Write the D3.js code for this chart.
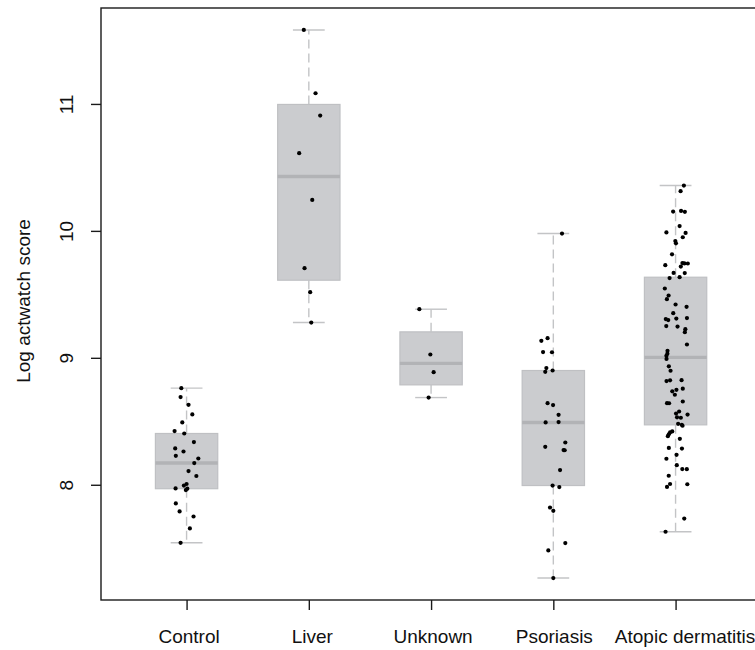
<!DOCTYPE html>
<html>
<head>
<meta charset="utf-8">
<script src="https://cdn.jsdelivr.net/npm/d3@7"></script>
<style>
  html, body { margin: 0; padding: 0; background: #fff; }
  svg { display: block; }
  text { font-family: "Liberation Sans", Arial, Helvetica, sans-serif; }
</style>
</head>
<body>
<svg id="chart" width="755" height="650"></svg>
<script>
// ---------------- data ----------------
const categories = ["Control", "Liver", "Unknown", "Psoriasis", "Atopic dermatitis"];
const yTicks = [8, 9, 10, 11];
const yLabel = "Log actwatch score";

const controlValues = [8.761, 8.691, 8.630, 8.554, 8.491, 8.423, 8.404, 8.336, 8.286, 8.262,
  8.228, 8.207, 8.171, 8.108, 8.069, 8.006, 7.994, 7.969, 7.958, 7.971,
  7.853, 7.790, 7.750, 7.656, 7.543];
const controlJitter = [-0.043, -0.049, 0.016, 0.047, -0.035, -0.098, -0.019, 0.060, -0.093, -0.025,
  -0.088, 0.096, 0.063, 0.016, 0.080, 0.000, -0.022, 0.006, -0.006, -0.090,
  -0.088, -0.057, 0.057, 0.027, -0.049];

const liverValues = [11.583, 11.084, 10.908, 10.612, 10.244, 9.706, 9.517, 9.278];
const liverJitter = [-0.041, 0.055, 0.093, -0.079, 0.028, -0.035, 0.011, 0.020];

const unknownValues = [9.383, 9.026, 8.887, 8.687];
const unknownJitter = [-0.096, -0.006, 0.021, -0.020];

const psoriasisValues = [9.979, 9.155, 9.134, 9.045, 9.044, 8.919, 8.900, 8.890, 8.643, 8.628,
  8.551, 8.494, 8.491, 8.333, 8.299, 8.273, 8.272, 8.116, 7.994, 7.982,
  7.821, 7.795, 7.541, 7.483, 7.265];
const psoriasisJitter = [0.071, -0.047, -0.098, -0.084, -0.011, -0.057, -0.006, -0.066, -0.047, -0.002,
  0.043, 0.043, -0.063, 0.098, -0.066, 0.084, 0.093, 0.055, -0.006, 0.049,
  -0.027, 0.000, 0.098, -0.041, 0.000];

const atopicValues = [10.357, 10.313, 10.152, 10.157, 10.150, 10.038, 9.988, 9.984, 9.950, 9.920,
  9.902, 9.815, 9.730, 9.746, 9.744, 9.743, 9.719, 9.669, 9.668, 9.628,
  9.635, 9.546, 9.491, 9.462, 9.420, 9.402, 9.352, 9.305, 9.297, 9.309,
  9.313, 9.250, 9.246, 9.226, 9.202, 9.105, 9.055, 9.033, 9.016, 8.991,
  8.933, 8.898, 8.817, 8.823, 8.824, 8.736, 8.748, 8.757, 8.709, 8.643,
  8.642, 8.656, 8.577, 8.561, 8.553, 8.531, 8.528, 8.480, 8.472, 8.465,
  8.420, 8.412, 8.398, 8.383, 8.362, 8.290, 8.285, 8.236, 8.205, 8.154,
  8.124, 8.123, 8.071, 8.006, 8.004, 7.983, 7.734, 7.630];
const atopicJitter = [0.068, 0.041, -0.020, 0.045, 0.076, 0.033, -0.075, 0.082, 0.059, -0.002,
  0.003, -0.029, -0.084, 0.056, 0.072, 0.100, 0.043, -0.016, 0.075, -0.049,
  0.033, -0.088, -0.057, -0.071, 0.000, 0.090, -0.019, -0.080, -0.060, 0.006,
  0.093, -0.076, 0.016, 0.080, 0.076, 0.093, -0.066, -0.067, -0.075, -0.074,
  -0.055, -0.041, -0.074, -0.045, 0.049, -0.027, 0.007, 0.059, -0.006, -0.070,
  -0.053, 0.059, 0.029, 0.004, 0.098, 0.012, 0.043, 0.021, 0.051, 0.057,
  -0.027, -0.045, -0.055, -0.063, 0.035, -0.055, 0.052, 0.008, -0.075, 0.010,
  0.055, 0.092, -0.056, -0.045, 0.096, -0.070, 0.071, -0.082];

const groupValues = [controlValues, liverValues, unknownValues, psoriasisValues, atopicValues];
const groupJitter = [controlJitter, liverJitter, unknownJitter, psoriasisJitter, atopicJitter];

// ---------------- helpers ----------------
function fivenum(arr) {
  const x = arr.slice().sort((a, b) => a - b);
  const n = x.length;
  const n4 = Math.floor((n + 3) / 2) / 2;
  const d = [1, n4, (n + 1) / 2, n + 1 - n4, n];
  return d.map(p => 0.5 * (x[Math.floor(p) - 1] + x[Math.ceil(p) - 1]));
}
function boxStats(arr) {
  const f = fivenum(arr);
  const iqr = f[3] - f[1];
  const lo = f[1] - 1.5 * iqr, hi = f[3] + 1.5 * iqr;
  const inside = arr.filter(v => v >= lo && v <= hi);
  return { q1: f[1], med: f[2], q3: f[3], wlo: d3.min(inside), whi: d3.max(inside) };
}

// ---------------- layout ----------------
const svg = d3.select("#chart");
const plotLeft = 101, plotTop = 8, plotBottom = 600;
const unit = 122.25;                       // px per category step
const plotRight = plotLeft + 5.4 * unit;   // R: [0.3, 5.7]

const x = d3.scaleLinear().domain([0.3, 5.7]).range([plotLeft, plotRight]);
const allVals = groupValues.flat();
const [vmin, vmax] = d3.extent(allVals);
const pad = (vmax - vmin) * 0.04;
const y = d3.scaleLinear().domain([vmin - pad, vmax + pad]).range([plotBottom, plotTop]);

const boxHalf = 0.255, capHalf = 0.13;
const fontSize = 19;

// boxes
const stats = groupValues.map(boxStats);
const g = svg.append("g");
stats.forEach((s, i) => {
  const cx = i + 1;
  [[s.q3, s.whi], [s.q1, s.wlo]].forEach(([a, b]) => {
    g.append("line")
      .attr("x1", x(cx)).attr("x2", x(cx))
      .attr("y1", y(a)).attr("y2", y(b))
      .attr("stroke", "#c3c4c6").attr("stroke-width", 1.4)
      .attr("stroke-dasharray", "9,5");
    g.append("line")
      .attr("x1", x(cx - capHalf)).attr("x2", x(cx + capHalf))
      .attr("y1", y(b)).attr("y2", y(b))
      .attr("stroke", "#c3c4c6").attr("stroke-width", 1.4);
  });
  g.append("rect")
    .attr("x", x(cx - boxHalf)).attr("width", x(cx + boxHalf) - x(cx - boxHalf))
    .attr("y", y(s.q3)).attr("height", y(s.q1) - y(s.q3))
    .attr("fill", "#cbcccf").attr("stroke", "#bfc0c3").attr("stroke-width", 1.2);
  g.append("line")
    .attr("x1", x(cx - boxHalf)).attr("x2", x(cx + boxHalf))
    .attr("y1", y(s.med)).attr("y2", y(s.med))
    .attr("stroke", "#b2b3b6").attr("stroke-width", 3.4);
});

// points
groupValues.forEach((vals, i) => {
  g.selectAll(null).data(vals.map((v, j) => ({ v, j: groupJitter[i][j], c: i + 1 })))
    .enter().append("circle")
    .attr("cx", d => x(d.c + d.j))
    .attr("cy", d => y(d.v))
    .attr("r", 2.1)
    .attr("fill", "#000");
});

// frame
svg.append("rect")
  .attr("x", plotLeft).attr("y", plotTop)
  .attr("width", plotRight - plotLeft).attr("height", plotBottom - plotTop)
  .attr("fill", "none").attr("stroke", "#1a1a1a").attr("stroke-width", 1.4);

// y axis
const yAxis = svg.append("g")
  .attr("transform", `translate(${plotLeft},0)`)
  .call(d3.axisLeft(y).tickValues(yTicks).tickSize(10).tickFormat(d3.format("d")));
yAxis.select(".domain").remove();
yAxis.selectAll(".tick line").attr("stroke", "#1a1a1a").attr("stroke-width", 1.4);
yAxis.selectAll(".tick text")
  .attr("transform", "rotate(-90)")
  .attr("x", 0).attr("y", -27.7).attr("dy", 0)
  .attr("text-anchor", "middle")
  .attr("fill", "#111")
  .style("font-size", fontSize + "px")
  .style("font-family", '"Liberation Sans", Arial, Helvetica, sans-serif');

// x axis
const labelShift = [2, 3, 1.5, 0.5, 9];  // small horizontal nudges seen in the reference
const xAxis = svg.append("g")
  .attr("transform", `translate(0,${plotBottom})`)
  .call(d3.axisBottom(x).tickValues([1, 2, 3, 4, 5]).tickSize(10)
    .tickFormat(d => categories[d - 1]));
xAxis.select(".domain").remove();
xAxis.selectAll(".tick line").attr("stroke", "#1a1a1a").attr("stroke-width", 1.4);
xAxis.selectAll(".tick text")
  .attr("y", 42.5).attr("dy", 0)
  .attr("dx", (d) => labelShift[d - 1])
  .attr("fill", "#111")
  .style("font-size", fontSize + "px")
  .style("font-family", '"Liberation Sans", Arial, Helvetica, sans-serif');

// y label
svg.append("text")
  .attr("transform", `translate(29.5,301) rotate(-90)`)
  .attr("text-anchor", "middle")
  .attr("fill", "#111")
  .style("font-size", fontSize + "px")
  .text(yLabel);
</script>
</body>
</html>
